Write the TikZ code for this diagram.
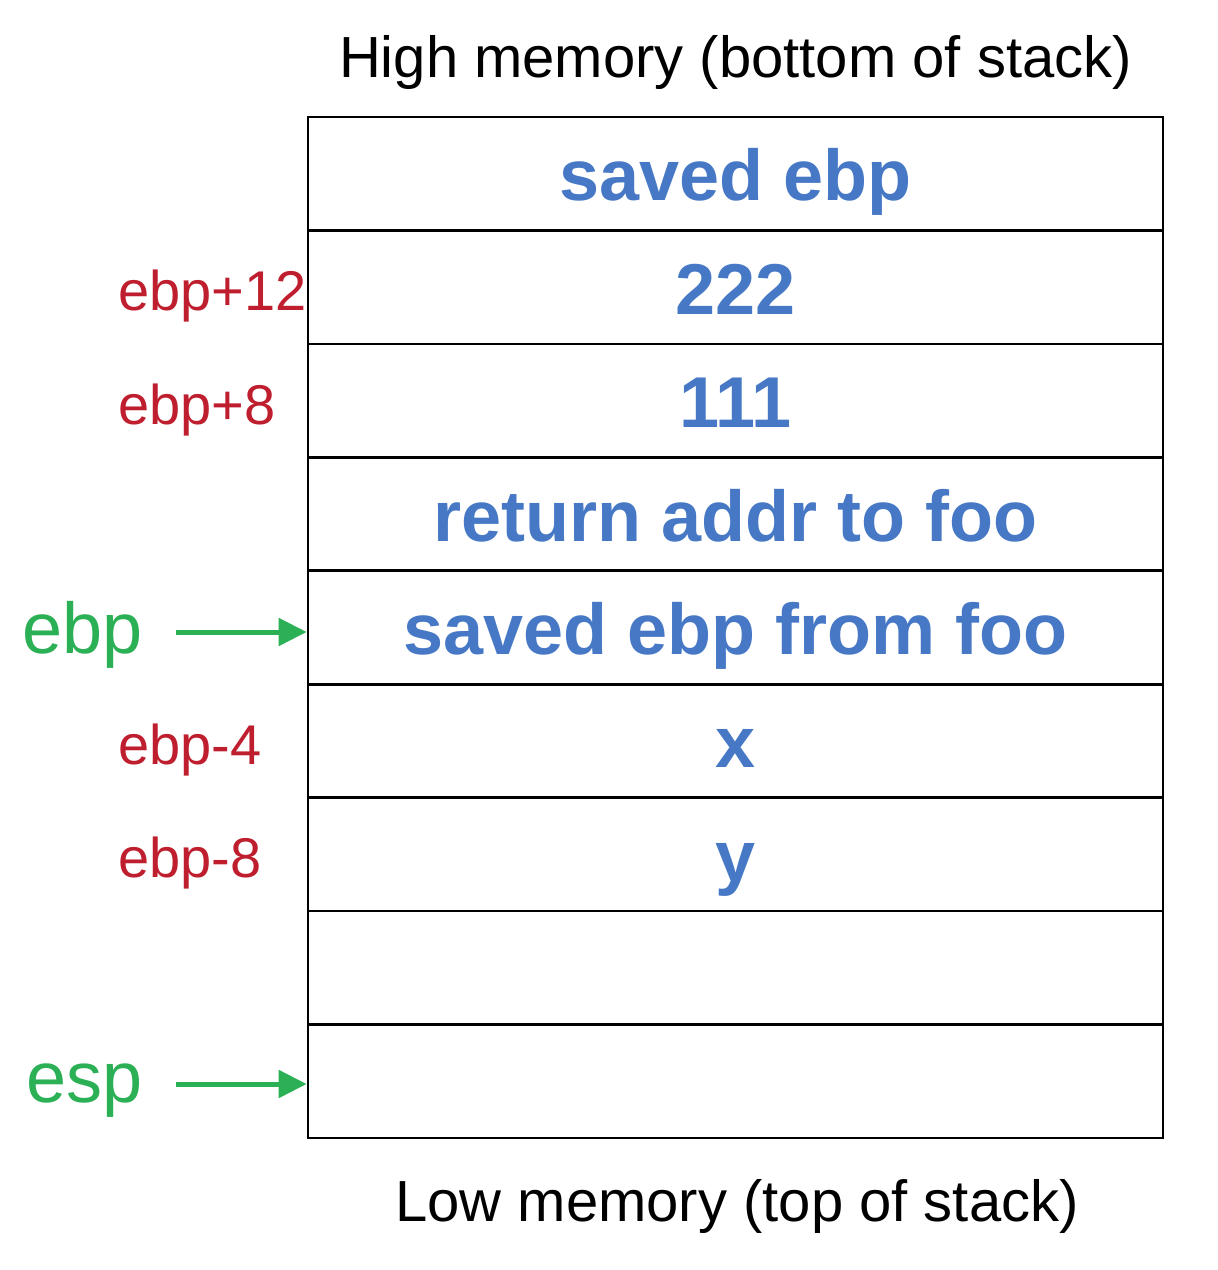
\documentclass[tikz,border=0pt]{standalone}
\usepackage{fontspec}
\setmainfont{Liberation Sans}
\usetikzlibrary{arrows.meta}
\definecolor{cellblue}{RGB}{70,120,198}
\definecolor{offred}{RGB}{190,30,45}
\definecolor{ptrgreen}{RGB}{44,176,86}
\begin{document}
\begin{tikzpicture}[x=1pt,y=-1pt,
  cell/.style={draw=black, line width=2.6pt, minimum width=855pt, minimum height=113.44pt,
    inner sep=0pt, text=cellblue, font=\fontsize{72}{80}\selectfont\bfseries,
    text height=54pt, text depth=0pt},
  offset/.style={text=offred, inner sep=0pt, anchor=base west, font=\fontsize{56}{64}\selectfont},
  reg/.style={text=ptrgreen, inner sep=0pt, anchor=base east, font=\fontsize{72}{80}\selectfont},
  caption/.style={text=black, inner sep=0pt, anchor=base, font=\fontsize{58}{66}\selectfont},
  ptr/.style={draw=ptrgreen, line width=5pt, -{Triangle[length=28pt,width=27pt]}}]
\useasboundingbox (0,0) rectangle (1218,1270);

% stack cells, highest address first
\foreach \i/\t in {1/saved ebp, 2/222, 3/111, 4/return addr to foo,
                   5/saved ebp from foo, 6/x, 7/y, 8/, 9/} {
  \node[cell] (c\i) at (735.5, {117+(\i-0.5)*113.44}) {\t};
}

% captions
\node[caption] (hi) at (735.5, 77) {High memory (bottom of stack)};
\node[caption] (lo) at (737, 1221) {Low memory (top of stack)};

% frame-pointer offsets
\node[offset] (o12) at (118, 310) {ebp+12};
\node[offset] (o8)  at (118, 424) {ebp+8};
\node[offset] (om4) at (118, 764) {ebp-4};
\node[offset] (om8) at (118, 877) {ebp-8};

% registers and their pointer arrows
\node[reg] (ebp) at (143, 653) {ebp};
\node[reg] (esp) at (143, 1102) {esp};
\coordinate (ebpstart) at ([xshift=33pt,yshift=21pt]ebp.base east);
\coordinate (espstart) at ([xshift=33pt,yshift=18pt]esp.base east);
\draw[ptr] (ebpstart) -- (ebpstart -| c5.west);
\draw[ptr] (espstart) -- (espstart -| c9.west);
\end{tikzpicture}
\end{document}
